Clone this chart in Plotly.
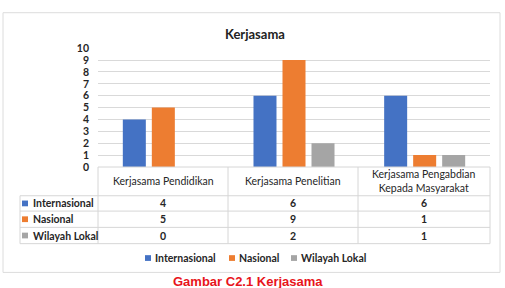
import plotly.graph_objects as go

categories = ["Kerjasama Pendidikan", "Kerjasama Penelitian", "Kerjasama Pengabdian<br>Kepada Masyarakat"]
series_names = ["Internasional", "Nasional", "Wilayah Lokal"]
internasional = [4, 6, 6]
nasional = [5, 9, 1]
wilayah_lokal = [0, 2, 1]
y_ticks = [0, 1, 2, 3, 4, 5, 6, 7, 8, 9, 10]
title_text = "Kerjasama"
caption_text = "Gambar C2.1 Kerjasama"

series_values = [internasional, nasional, wilayah_lokal]
colors = ["#4472C4", "#ED7D31", "#A5A5A5"]

W, H = 505, 288
def px(x):
    return x / W
def py(y):
    return 1 - y / H

FONT = "Lato"

# plot area geometry (pixels)
PL, PR, PT, PB = 98, 490, 44, 168

fig = go.Figure()
for name, vals, col in zip(series_names, series_values, colors):
    fig.add_trace(go.Bar(x=categories, y=vals, name=name, marker_color=col,
                         marker_line_width=0, showlegend=False))

shapes = []
line_col = "#D6D6D6"
# outer frame
shapes.append(dict(type="rect", xref="paper", yref="paper", x0=px(3), x1=px(500),
                   y0=py(278), y1=py(7), line=dict(color="#DCDCDC", width=1),
                   fillcolor="rgba(0,0,0,0)", layer="below"))

# data table lines
col_edges = [98, 228, 358, 490]
row_edges = [198, 214, 231, 248]
tbl_left = 20
shapes.append(dict(type="line", xref="paper", yref="paper", x0=px(98), x1=px(490),
                   y0=py(168), y1=py(168), line=dict(color=line_col, width=1)))
for ry in row_edges:
    shapes.append(dict(type="line", xref="paper", yref="paper", x0=px(tbl_left), x1=px(490),
                       y0=py(ry), y1=py(ry), line=dict(color=line_col, width=1)))
shapes.append(dict(type="line", xref="paper", yref="paper", x0=px(tbl_left), x1=px(tbl_left),
                   y0=py(198), y1=py(248), line=dict(color=line_col, width=1)))
for cx in col_edges:
    shapes.append(dict(type="line", xref="paper", yref="paper", x0=px(cx), x1=px(cx),
                       y0=py(168), y1=py(248), line=dict(color=line_col, width=1)))

annotations = []
# title
annotations.append(dict(text="<b>" + title_text + "</b>", x=px(255), y=py(29), xref="paper", yref="paper",
                        showarrow=False, xanchor="center", yanchor="middle",
                        font=dict(family=FONT, size=13, color="#222222")))
# header cells
col_centers = [(col_edges[i] + col_edges[i + 1]) / 2 for i in range(3)]
for cx, cat in zip(col_centers, categories):
    annotations.append(dict(text=cat, x=px(cx), y=py(183), xref="paper", yref="paper",
                            showarrow=False, xanchor="center", yanchor="middle",
                            font=dict(family=FONT, size=10.5, color="#262626")))
# rows
row_centers = [(row_edges[i] + row_edges[i + 1]) / 2 for i in range(3)]
for rc, name, vals, col in zip(row_centers, series_names, series_values, colors):
    shapes.append(dict(type="rect", xref="paper", yref="paper", x0=px(22), x1=px(28),
                       y0=py(rc + 3), y1=py(rc - 3), fillcolor=col, line=dict(width=0)))
    annotations.append(dict(text="<b>" + name + "</b>", x=px(31), y=py(rc), xref="paper", yref="paper",
                            showarrow=False, xanchor="left", yanchor="middle",
                            font=dict(family=FONT, size=10.5, color="#262626")))
    for cx, v in zip(col_centers, vals):
        annotations.append(dict(text="<b>" + str(v) + "</b>", x=px(cx), y=py(rc), xref="paper", yref="paper",
                                showarrow=False, xanchor="center", yanchor="middle",
                                font=dict(family=FONT, size=10.5, color="#262626")))

# legend (manual, Excel-style small squares)
legend_x = [145, 229, 291]
for lx, name, col in zip(legend_x, series_names, colors):
    shapes.append(dict(type="rect", xref="paper", yref="paper", x0=px(lx), x1=px(lx + 6),
                       y0=py(266), y1=py(260), fillcolor=col, line=dict(width=0)))
    annotations.append(dict(text="<b>" + name + "</b>", x=px(lx + 8), y=py(263), xref="paper", yref="paper",
                            showarrow=False, xanchor="left", yanchor="middle",
                            font=dict(family=FONT, size=10.5, color="#262626")))

# caption (partly below the bottom edge, as in the reference)
annotations.append(dict(text="<b>" + caption_text + "</b>", x=px(248), y=py(278), xref="paper", yref="paper",
                        showarrow=False, xanchor="center", yanchor="top",
                        font=dict(family="Liberation Sans", size=13, color="#E8141B")))

fig.update_layout(
    width=W, height=H,
    margin=dict(l=0, r=0, t=0, b=0),
    paper_bgcolor="white", plot_bgcolor="white",
    barmode="group", bargap=0.334, bargroupgap=0.207,
    xaxis=dict(domain=[px(PL), px(PR)], showticklabels=False, showgrid=False,
               zeroline=False, showline=False, ticks=""),
    yaxis=dict(domain=[py(PB), py(PT)], range=[0, 10], tickvals=y_ticks,
               showgrid=True, gridcolor="#D9D9D9", gridwidth=1, zeroline=False,
               showline=False, ticks="", ticklabelstandoff=8,
               tickfont=dict(family=FONT, size=10.5, color="#262626", weight="bold")),
    shapes=shapes, annotations=annotations,
)

fig.write_html("out.html")
